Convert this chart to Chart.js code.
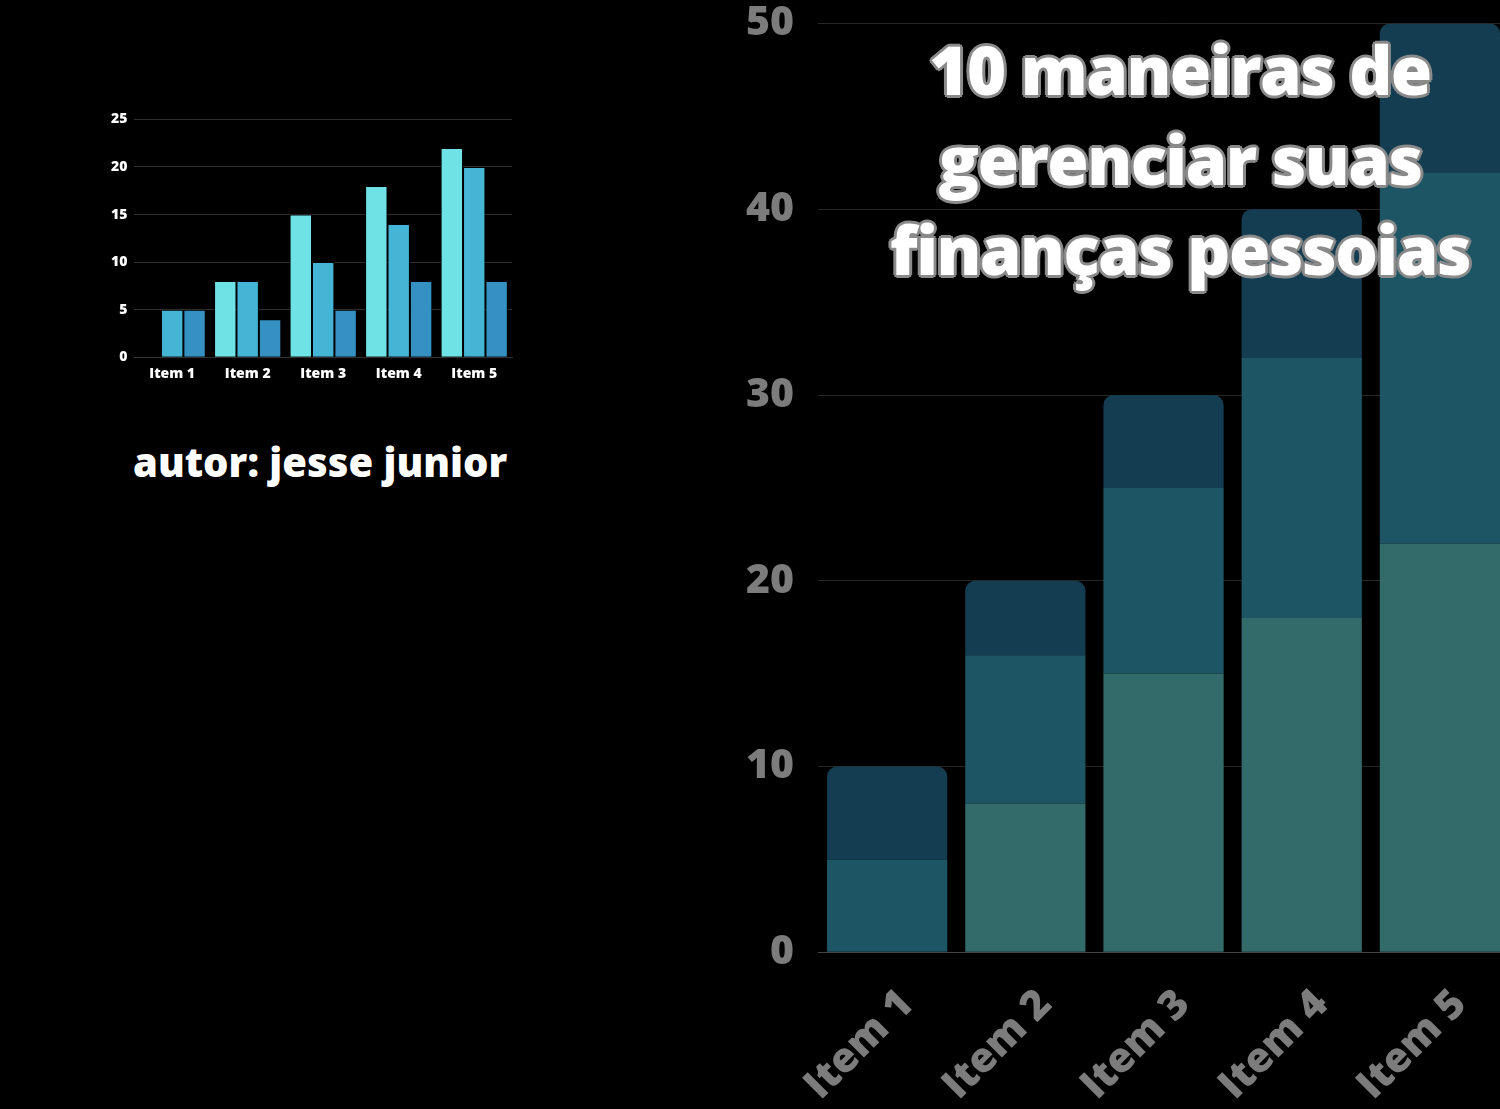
<!DOCTYPE html>
<html>
<head>
<meta charset="utf-8">
<script src="https://cdn.jsdelivr.net/npm/chart.js@4"></script>
<style>
  html, body { margin: 0; padding: 0; background: #000; overflow: hidden; }
  body { width: 1500px; height: 1109px; position: relative; font-family: "Open Sans", sans-serif; }
  #smallWrap { position: absolute; left: 95px; top: 104px; width: 430px; height: 278px; }
  #bigWrap { position: absolute; left: 712px; top: -25px; width: 808px; height: 1155px; }
  .title {
    position: absolute; left: 870px; width: 620px; top: 24px;
    text-align: center; color: #fff; font-weight: 800; font-size: 67px;
    line-height: 90px; letter-spacing: -1.5px;
    text-shadow: 3px 0 #8a8a8a, -3px 0 #8a8a8a, 0 3px #8a8a8a, 0 -3px #8a8a8a,
                 2px 2px #8a8a8a, -2px 2px #8a8a8a, 2px -2px #8a8a8a, -2px -2px #8a8a8a;
  }
  .author {
    position: absolute; left: 133px; top: 434px; color: #fff;
    font-weight: 800; font-size: 40px; white-space: nowrap;
  }
</style>
</head>
<body>
<div id="smallWrap"><canvas id="smallChart"></canvas></div>
<div id="bigWrap"><canvas id="bigChart"></canvas></div>
<div class="title">10 maneiras de<br>gerenciar suas<br>finanças pessoias</div>
<div class="author">autor: jesse junior</div>
<script>
const categories = ['Item 1', 'Item 2', 'Item 3', 'Item 4', 'Item 5'];
const seriesA = [0, 8, 15, 18, 22];
const seriesB = [5, 8, 10, 14, 20];
const seriesC = [5, 4, 5, 8, 8];
const smallTicks = [0, 5, 10, 15, 20, 25];
const bigTicks = [0, 10, 20, 30, 40, 50];

Chart.defaults.font.family = '"Open Sans", sans-serif';
Chart.defaults.font.weight = 800;
Chart.defaults.animation = false;

// small grouped bar chart (left)
new Chart(document.getElementById('smallChart').getContext('2d'), {
  type: 'bar',
  data: {
    labels: categories,
    datasets: [
      { label: 'A', data: seriesA, backgroundColor: '#6fe2e6', borderColor: '#000', borderWidth: 1 },
      { label: 'B', data: seriesB, backgroundColor: '#45b5d5', borderColor: '#000', borderWidth: 1 },
      { label: 'C', data: seriesC, backgroundColor: '#3591c1', borderColor: '#000', borderWidth: 1 }
    ]
  },
  options: {
    responsive: true,
    maintainAspectRatio: false,
    layout: { padding: { top: 14, right: 13, left: 9, bottom: 0 } },
    plugins: { legend: { display: false }, tooltip: { enabled: false } },
    datasets: { bar: { barPercentage: 1, categoryPercentage: 0.89 } },
    scales: {
      x: {
        grid: { display: false },
        border: { color: '#333' },
        ticks: { color: '#fff', font: { size: 14, weight: 800 }, maxRotation: 0, padding: 0 }
      },
      y: {
        min: 0, max: 25,
        afterBuildTicks: axis => { axis.ticks = smallTicks.map(v => ({ value: v })); },
        grid: { color: '#2e2e2e', lineWidth: 1, drawTicks: false },
        border: { display: false },
        ticks: { color: '#fff', font: { size: 14, weight: 800 }, padding: 7 }
      }
    }
  }
});

// big stacked bar chart (right)
new Chart(document.getElementById('bigChart').getContext('2d'), {
  type: 'bar',
  data: {
    labels: categories,
    datasets: [
      { label: 'A', data: seriesA, backgroundColor: '#336b6b', borderRadius: 0 },
      { label: 'B', data: seriesB, backgroundColor: '#1e5564', borderRadius: 0 },
      { label: 'C', data: seriesC, backgroundColor: '#143d52',
        borderRadius: { topLeft: 10, topRight: 10, bottomLeft: 0, bottomRight: 0 }, borderSkipped: false }
    ]
  },
  options: {
    responsive: true,
    maintainAspectRatio: false,
    layout: { padding: { top: 3, right: 11, left: 10, bottom: 0 } },
    plugins: { legend: { display: false }, tooltip: { enabled: false } },
    datasets: { bar: { barPercentage: 0.87, categoryPercentage: 1 } },
    scales: {
      x: {
        stacked: true,
        grid: { display: false },
        border: { color: '#444' },
        ticks: { color: '#7c7c7c', font: { size: 41, weight: 800 }, minRotation: 45, maxRotation: 45,
                 padding: 20, labelOffset: 20 }
      },
      y: {
        stacked: true,
        min: 0, max: 50,
        afterBuildTicks: axis => { axis.ticks = bigTicks.map(v => ({ value: v })); },
        grid: { color: '#262626', lineWidth: 1, drawTicks: false },
        border: { display: false },
        ticks: { color: '#7c7c7c', font: { size: 41, weight: 800 }, padding: 24 }
      }
    }
  }
});
</script>
</body>
</html>
